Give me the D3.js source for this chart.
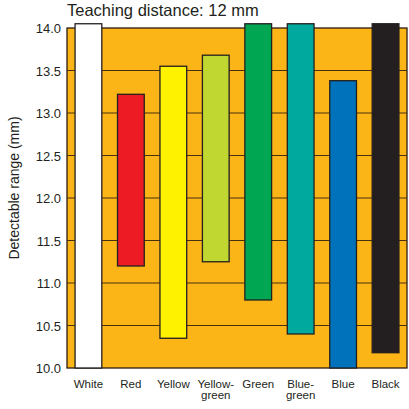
<!DOCTYPE html>
<html>
<head>
<meta charset="UTF-8">
<style>
  body { margin: 0; background: #fff; }
  text { font-family: "Liberation Sans", Arial, sans-serif; }
</style>
</head>
<body>
<svg width="409" height="409"></svg>
<script src="https://d3js.org/d3.v7.min.js"></script>
<script>
const colours = ["White", "Red", "Yellow", "Yellow-\ngreen", "Green", "Blue-\ngreen", "Blue", "Black"];
const lows  = [10.0, 11.2, 10.35, 11.25, 10.8, 10.4, 10.0, 10.18];
const highs = [14.05, 13.22, 13.55, 13.68, 14.05, 14.05, 13.38, 14.05];
const fills = ["#ffffff", "#ed1c24", "#fff200", "#bfd730", "#00a651", "#00a99d", "#0072bc", "#231f20"];
const ticks = [10.0, 10.5, 11.0, 11.5, 12.0, 12.5, 13.0, 13.5, 14.0];

let svg = d3.select("svg");
let pl = 67, pr = 407, pt = 28, pb = 368;

let x = d3.scaleBand().domain(colours).range([pl, pr]).paddingInner(0.37).paddingOuter(0.19);
let y = d3.scaleLinear().domain([10, 14]).range([pb, pt]);

svg.append("rect").attr("x", pl).attr("y", pt).attr("width", pr - pl).attr("height", pb - pt)
    .attr("fill", "#fbb517").attr("stroke", "#2b1d10").attr("stroke-width", 1.3);

svg.append("g").selectAll("line").data(ticks.slice(1, -1)).enter().append("line")
    .attr("x1", pl).attr("x2", pr).attr("y1", d => y(d)).attr("y2", d => y(d))
    .attr("stroke", "#4a3010").attr("stroke-width", 1);

svg.append("g").selectAll("text").data(ticks).enter().append("text")
    .attr("x", pl - 6).attr("y", d => y(d) + 5).attr("text-anchor", "end")
    .attr("font-size", 13).attr("fill", "#231f20").text(d => d.toFixed(1));

svg.append("g").selectAll("rect").data(colours).enter().append("rect")
    .attr("x", d => x(d)).attr("width", x.bandwidth())
    .attr("y", (d, i) => y(highs[i])).attr("height", (d, i) => y(lows[i]) - y(highs[i]))
    .attr("fill", (d, i) => fills[i]).attr("stroke", "#231f20").attr("stroke-width", 1.3);

let lab = svg.append("g").selectAll("text").data(colours).enter().append("text")
    .attr("x", d => x(d) + x.bandwidth() / 2).attr("y", 388)
    .attr("text-anchor", "middle").attr("font-size", 11.5).attr("fill", "#231f20");
lab.each(function(d) {
  d.split("\n").forEach((s, k) => {
    d3.select(this).append("tspan").attr("x", x(d) + x.bandwidth() / 2).attr("dy", k ? 11 : 0).text(s);
  });
});

svg.append("text").attr("x", 67).attr("y", 16).attr("font-size", 16.5).attr("fill", "#231f20")
    .text("Teaching distance: 12 mm");

svg.append("text").attr("transform", "translate(19," + ((pt + pb) / 2 - 10) + ") rotate(-90)")
    .attr("text-anchor", "middle").attr("font-size", 14).attr("fill", "#231f20")
    .text("Detectable range (mm)");
</script>
</body>
</html>
